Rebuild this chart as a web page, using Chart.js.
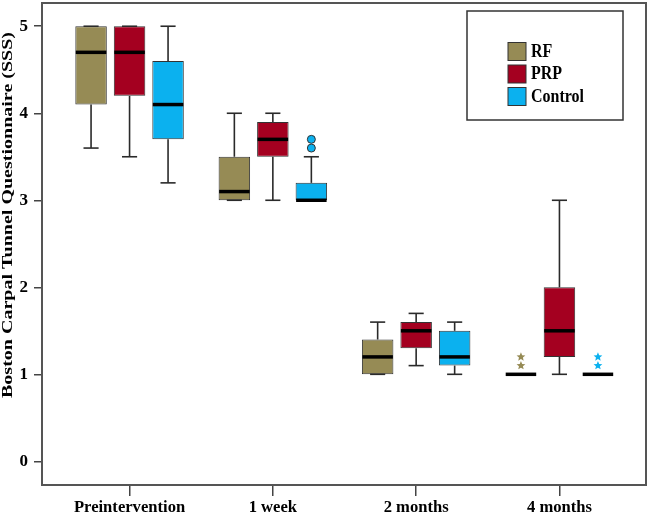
<!DOCTYPE html>
<html><head><meta charset="utf-8">
<script src="https://cdn.jsdelivr.net/npm/chart.js@4/dist/chart.umd.min.js"></script>
<style>html,body{margin:0;padding:0;background:#fff}#wrap{width:650px;height:516px;position:relative}</style>
</head><body><div id="wrap"><canvas id="c"></canvas></div>
<script>
// ---- data ----
const categories = ['Preintervention', '1 week', '2 months', '4 months'];
const seriesNames = ['RF', 'PRP', 'Control'];
const yTicks = [0, 1, 2, 3, 4, 5];

const rfMin = [3.6, 3.0, 1.0, 1.0];
const rfQ1  = [4.1, 3.0, 1.0, 1.0];
const rfMed = [4.7, 3.1, 1.2, 1.0];
const rfQ3  = [5.0, 3.5, 1.4, 1.0];
const rfMax = [5.0, 4.0, 1.6, 1.0];
const rfOutliers = [[], [], [], [1.1, 1.2]];
const rfOutlierMarks = ['', '', '', 'star'];

const prpMin = [3.5, 3.0, 1.1, 1.0];
const prpQ1  = [4.2, 3.5, 1.3, 1.2];
const prpMed = [4.7, 3.7, 1.5, 1.5];
const prpQ3  = [5.0, 3.9, 1.6, 2.0];
const prpMax = [5.0, 4.0, 1.7, 3.0];
const prpOutliers = [[], [], [], []];
const prpOutlierMarks = ['', '', '', ''];

const ctlMin = [3.2, 3.0, 1.0, 1.0];
const ctlQ1  = [3.7, 3.0, 1.1, 1.0];
const ctlMed = [4.1, 3.0, 1.2, 1.0];
const ctlQ3  = [4.6, 3.2, 1.5, 1.0];
const ctlMax = [5.0, 3.5, 1.6, 1.0];
const ctlOutliers = [[], [3.6, 3.7], [], [1.1, 1.2]];
const ctlOutlierMarks = ['', 'circle', '', 'star'];

const yTitle = 'Boston Carpal Tunnel Questionnaire (SSS)';

// ---- styling ----
const colors = ['#968b55', '#a40020', '#0bb1ef'];
const stats = [
  {min: rfMin, q1: rfQ1, med: rfMed, q3: rfQ3, max: rfMax, out: rfOutliers, mark: rfOutlierMarks},
  {min: prpMin, q1: prpQ1, med: prpMed, q3: prpQ3, max: prpMax, out: prpOutliers, mark: prpOutlierMarks},
  {min: ctlMin, q1: ctlQ1, med: ctlMed, q3: ctlQ3, max: ctlMax, out: ctlOutliers, mark: ctlOutlierMarks}
];
const SERIF = '"Liberation Serif", "DejaVu Serif", serif';

function line(ctx, x1, y1, x2, y2) { ctx.beginPath(); ctx.moveTo(x1, y1); ctx.lineTo(x2, y2); ctx.stroke(); }
function star(ctx, cx, cy, r) {
  ctx.beginPath();
  for (let k = 0; k < 10; k++) {
    const rr = k % 2 === 0 ? r : r * 0.45;
    const a = -Math.PI / 2 + k * Math.PI / 5;
    const px = cx + rr * Math.cos(a), py = cy + rr * Math.sin(a);
    k === 0 ? ctx.moveTo(px, py) : ctx.lineTo(px, py);
  }
  ctx.closePath(); ctx.fill();
}

const boxPlugin = {
  id: 'boxExtras',
  afterDatasetsDraw(chart) {
    const ctx = chart.ctx, ys = chart.scales.y;
    stats.forEach((s, i) => {
      const meta = chart.getDatasetMeta(i);
      meta.data.forEach((bar, j) => {
        const x = bar.x, w = bar.width, cap = w * 0.48;
        const pMin = ys.getPixelForValue(s.min[j]), pMax = ys.getPixelForValue(s.max[j]);
        const pQ1 = ys.getPixelForValue(s.q1[j]), pQ3 = ys.getPixelForValue(s.q3[j]);
        const pMed = ys.getPixelForValue(s.med[j]);
        ctx.save();
        ctx.strokeStyle = '#2a2a2a'; ctx.lineWidth = 1.6;
        if (s.min[j] < s.q1[j]) line(ctx, x, pQ1, x, pMin);
        if (s.max[j] > s.q3[j]) line(ctx, x, pQ3, x, pMax);
        if (s.max[j] > s.min[j]) {
          line(ctx, x - cap / 2, pMin, x + cap / 2, pMin);
          line(ctx, x - cap / 2, pMax, x + cap / 2, pMax);
        }
        ctx.strokeStyle = '#000'; ctx.lineWidth = 3.5;
        line(ctx, x - w / 2 + 0.5, pMed, x + w / 2 - 0.5, pMed);
        s.out[j].forEach(v => {
          const py = ys.getPixelForValue(v);
          if (s.mark[j] === 'circle') {
            ctx.beginPath(); ctx.arc(x, py, 4, 0, Math.PI * 2);
            ctx.fillStyle = colors[i]; ctx.fill();
            ctx.lineWidth = 1; ctx.strokeStyle = '#333'; ctx.stroke();
          } else {
            ctx.fillStyle = colors[i]; star(ctx, x, py, 4.6);
          }
        });
        ctx.restore();
      });
    });
  },
  afterDraw(chart) {
    const ctx = chart.ctx, a = chart.chartArea;
    ctx.save();
    // frame
    ctx.strokeStyle = '#555'; ctx.lineWidth = 2;
    ctx.strokeRect(a.left, a.top, a.right - a.left, a.bottom - a.top);
    // legend box
    ctx.strokeStyle = '#333'; ctx.lineWidth = 1.5;
    ctx.strokeRect(467, 11, 156, 109);
    seriesNames.forEach((n, i) => {
      const ty = 42.5 + i * 22.5;
      ctx.fillStyle = colors[i]; ctx.fillRect(508, ty, 18, 18);
      ctx.strokeStyle = '#333'; ctx.lineWidth = 1; ctx.strokeRect(508, ty, 18, 18);
      ctx.fillStyle = '#000'; ctx.font = 'bold 16px ' + SERIF;
      ctx.textBaseline = 'middle'; ctx.textAlign = 'left';
      ctx.save(); ctx.translate(531, ty + 9.5); ctx.scale(1, 1.2); ctx.fillText(n, 0, 0); ctx.restore();
    });
    // y axis title
    ctx.font = 'bold 15px ' + SERIF;
    const tw = ctx.measureText(yTitle).width;
    ctx.translate(8, 215); ctx.rotate(-Math.PI / 2);
    ctx.scale(366 / tw, 1);
    ctx.textAlign = 'center'; ctx.textBaseline = 'middle'; ctx.fillStyle = '#000';
    ctx.fillText(yTitle, 0, 0);
    ctx.restore();
  }
};

new Chart(document.getElementById('c'), {
  type: 'bar',
  data: {
    datasets: seriesNames.map((n, i) => ({
      label: n,
      data: categories.map((c, j) => ({x: j, y: [stats[i].q1[j], stats[i].q3[j]]})),
      backgroundColor: colors[i],
      borderColor: '#333',
      borderWidth: 1,
      borderSkipped: false,
      categoryPercentage: 0.806,
      barPercentage: 0.818
    }))
  },
  options: {
    responsive: true, maintainAspectRatio: false, animation: false,
    layout: {padding: {top: 3, right: 4, left: 0, bottom: 0}},
    plugins: {legend: {display: false}, tooltip: {enabled: false}},
    scales: {
      x: {
        type: 'linear', min: -0.611, max: 3.604, offset: false,
        afterBuildTicks: s => { s.ticks = categories.map((c, j) => ({value: j})); },
        afterFit: s => { s.height = 31; s.paddingLeft = 0; s.paddingRight = 0; },
        grid: {display: true, offset: false, drawOnChartArea: false, drawTicks: true, tickLength: 11, color: '#444', lineWidth: 1.5},
        border: {display: false},
        ticks: {padding: 2, color: '#000', font: {family: SERIF, size: 16.6, weight: 'bold'},
                callback: v => categories[v], maxRotation: 0, autoSkip: false}
      },
      y: {
        min: -0.272, max: 5.267,
        afterBuildTicks: s => { s.ticks = yTicks.map(v => ({value: v})); },
        afterFit: s => { s.width = 42; s.paddingTop = 0; s.paddingBottom = 0; },
        grid: {display: true, drawOnChartArea: false, drawTicks: true, tickLength: 8, color: '#444', lineWidth: 1.5},
        border: {display: false},
        ticks: {padding: 6, color: '#000', font: {family: SERIF, size: 17, weight: 'bold'}}
      }
    }
  },
  plugins: [boxPlugin]
});
</script>
</body></html>
